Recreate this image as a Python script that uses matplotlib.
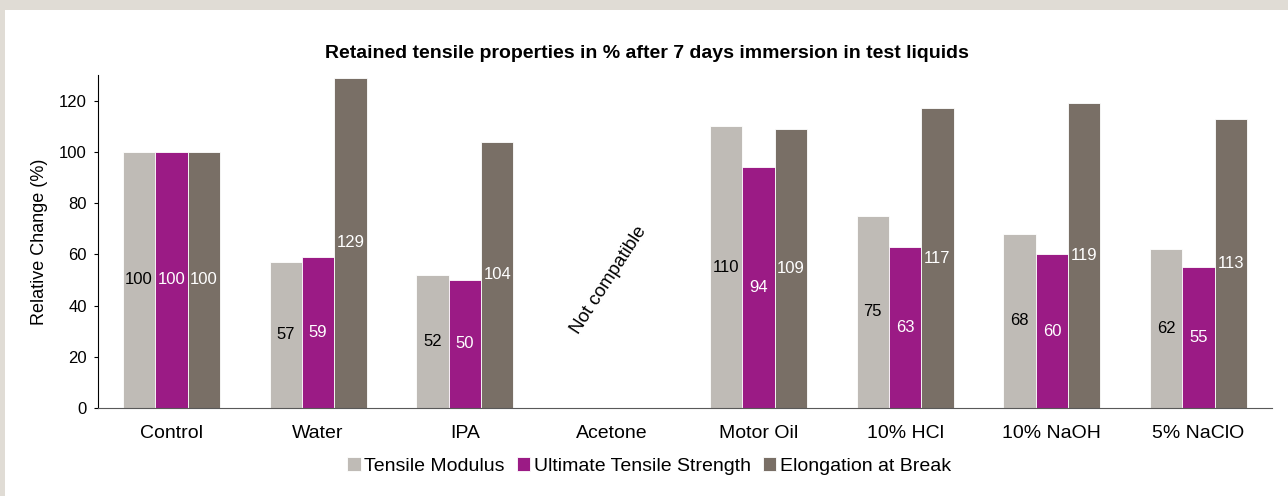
import numpy as np
import matplotlib
matplotlib.use("Agg")
import matplotlib.pyplot as plt
from matplotlib.patches import Rectangle

plt.rcParams['font.family'] = ['Liberation Sans', 'DejaVu Sans']

categories = ['Control', 'Water', 'IPA', 'Acetone', 'Motor Oil', '10% HCl', '10% NaOH', '5% NaClO']
tensile_modulus = [100, 57, 52, None, 110, 75, 68, 62]
uts = [100, 59, 50, None, 94, 63, 60, 55]
elongation = [100, 129, 104, None, 109, 117, 119, 113]

series = [
    ('Tensile Modulus', tensile_modulus, '#bfbbb6', 'black'),
    ('Ultimate Tensile Strength', uts, '#9b1b85', 'white'),
    ('Elongation at Break', elongation, '#796f66', 'white'),
]

fig = plt.figure(figsize=(12.88, 4.96), dpi=100)
# beige frame at top and left
fig.patches.append(Rectangle((0, 1 - 10 / 496), 1, 10 / 496, transform=fig.transFigure,
                             facecolor='#e0dcd5', edgecolor='none', zorder=-1))
fig.patches.append(Rectangle((0, 0), 5 / 1288, 1, transform=fig.transFigure,
                             facecolor='#e0dcd5', edgecolor='none', zorder=-1))

ax = fig.add_axes([98 / 1288, 1 - 408 / 496, 1174 / 1288, 333 / 496])

x = np.arange(len(categories))
w = 0.22
for i, (name, vals, color, tcolor) in enumerate(series):
    xs = [xi + (i - 1) * w for xi, v in zip(x, vals) if v is not None]
    vs = [v for v in vals if v is not None]
    ax.bar(xs, vs, width=w, color=color, edgecolor='white', linewidth=0.6, label=name)
    for xi, v in zip(xs, vs):
        ax.text(xi, v / 2, str(v), ha='center', va='center', fontsize=12, color=tcolor)

ax.text(2.98, 50, 'Not compatible', rotation=57, ha='center', va='center', fontsize=13.5)

ax.set_xlim(-0.5, len(categories) - 0.5)
ax.set_ylim(0, 130)
ax.set_yticks(range(0, 121, 20))
ax.set_xticks(x)
ax.set_xticklabels(categories, fontsize=14)
ax.tick_params(axis='x', length=0, pad=12)
ax.tick_params(axis='y', labelsize=12, length=3, pad=5)
ax.set_ylabel('Relative Change (%)', fontsize=13, labelpad=8)

for s in ['top', 'right']:
    ax.spines[s].set_visible(False)
ax.spines['left'].set_color('black')
ax.spines['bottom'].set_color('#595959')

fig.text(0.502, 1 - 53 / 496, 'Retained tensile properties in % after 7 days immersion in test liquids',
         ha='center', va='center', fontsize=14, fontweight='bold')

fig.legend(loc='center', bbox_to_anchor=(0.504, 1 - 466 / 496), ncol=3, frameon=False,
           fontsize=14, handlelength=0.7, handleheight=0.7, handletextpad=0.2,
           columnspacing=0.6, borderpad=0)

fig.savefig('out.png', dpi=100)
